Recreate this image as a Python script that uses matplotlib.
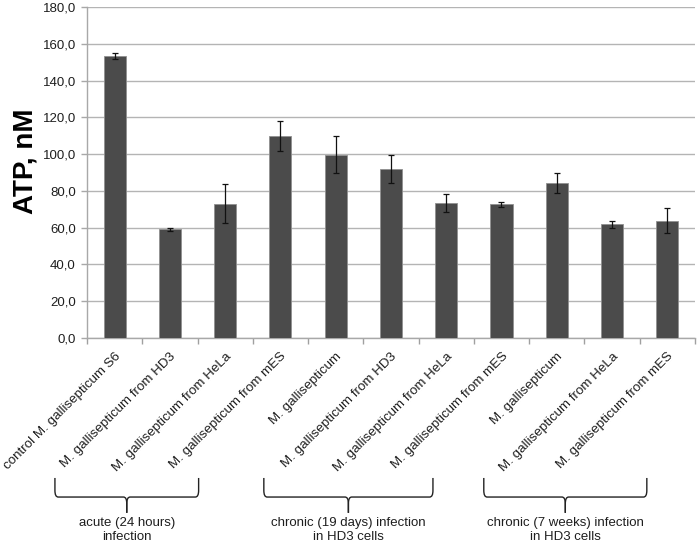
import matplotlib
matplotlib.use("Agg")
import matplotlib.pyplot as plt
import numpy as np
from matplotlib.path import Path
from matplotlib.patches import PathPatch
import matplotlib.transforms as mtransforms

plt.rcParams['font.family'] = ['Liberation Sans', 'DejaVu Sans']

labels = ["control M. gallisepticum S6",
          "M. gallisepticum from HD3",
          "M. gallisepticum from HeLa",
          "M. gallisepticum from mES",
          "M. gallisepticum",
          "M. gallisepticum from HD3",
          "M. gallisepticum from HeLa",
          "M. gallisepticum from mES",
          "M. gallisepticum",
          "M. gallisepticum from HeLa",
          "M. gallisepticum from mES"]
atp = [153.4, 59.2, 73.0, 109.8, 99.8, 91.9, 73.5, 72.7, 84.2, 61.9, 63.8]
err = [1.5, 0.8, 10.6, 8.2, 10.0, 7.4, 4.9, 1.5, 5.3, 1.8, 6.7]

group_names = ["acute (24 hours)\ninfection",
               "chronic (19 days) infection\nin HD3 cells",
               "chronic (7 weeks) infection\nin HD3 cells"]
# brace extents in category units (hand drawn in the original)
group_spans = [(-1.08, 1.52), (2.7, 5.76), (6.68, 9.63)]

fig = plt.figure(figsize=(6.97, 5.45), dpi=100)
ax = fig.add_axes([0.1248, 0.3798, 0.8722, 0.6072])

x = np.arange(len(atp))
ax.bar(x, atp, width=0.4, color='#4b4b4b', edgecolor='#909090', linewidth=0.6, zorder=3)
ax.errorbar(x, atp, yerr=err, fmt='none', ecolor='#111111', elinewidth=0.9,
            capsize=2, capthick=0.9, zorder=4)

ax.set_xlim(-0.5, len(atp) - 0.5)
ax.set_ylim(0, 180)
ax.set_yticks(np.arange(0, 181, 20))
ax.set_yticklabels([f"{v:.1f}".replace('.', ',') for v in np.arange(0, 181, 20)])
ax.yaxis.grid(True, color='#b4b4b4', linewidth=1.0, zorder=0)
ax.set_axisbelow(True)

ax.set_xticks(x)
ax.set_xticklabels(labels, rotation=45, ha='right', rotation_mode='anchor', fontsize=9.6,
                   color='#1e1e1e')
ax.tick_params(axis='x', which='major', length=0, pad=9)
ax.set_xticks(np.arange(-0.5, len(atp), 1.0), minor=True)
ax.tick_params(axis='x', which='minor', length=4, color='#a0a0a0', width=1)
ax.tick_params(axis='y', length=4, color='#a8a8a8', width=1, labelsize=9.5,
               labelcolor='#1e1e1e', pad=4)

for s in ['top', 'right']:
    ax.spines[s].set_visible(False)
for s in ['left', 'bottom']:
    ax.spines[s].set_color('#a8a8a8')
    ax.spines[s].set_linewidth(1.0)

ax.set_ylabel("ATP, nM", fontsize=20, fontweight='bold')
ax.yaxis.set_label_coords(-0.08, 0.535)

# braces under the category labels
trans = mtransforms.blended_transform_factory(ax.transData, fig.transFigure)
y_top, y_mid, y_tip = 0.123, 0.088, 0.059
r = 0.06
rv = 0.012
for (x0, x1), name in zip(group_spans, group_names):
    xm = (x0 + x1) / 2
    for a, b in [(x0, xm), (x1, xm)]:
        s = 1 if b > a else -1
        verts = [(a, y_top), (a, y_mid + rv), (a, y_mid), (a + s * r, y_mid),
                 (b - s * r, y_mid), (b, y_mid), (b, y_mid - rv), (b, y_tip)]
        codes = [Path.MOVETO, Path.LINETO, Path.CURVE3, Path.CURVE3,
                 Path.LINETO, Path.CURVE3, Path.CURVE3, Path.LINETO]
        ax.add_patch(PathPatch(Path(verts, codes), transform=trans, fill=False,
                               edgecolor='#222222', linewidth=1.0, clip_on=False))
    ax.text(xm, 0.0275, name, transform=trans, ha='center', va='center',
            fontsize=9.5, color='#1e1e1e', linespacing=1.15)

fig.savefig("out.png", dpi=100)
